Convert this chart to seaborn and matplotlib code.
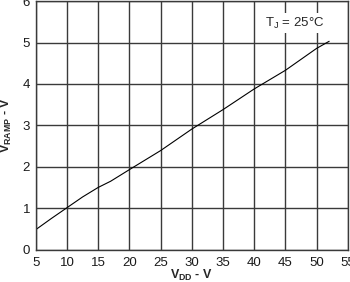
import matplotlib
matplotlib.use("Agg")
import matplotlib.pyplot as plt
import seaborn as sns
import pandas as pd

vdd = [5, 7.5, 10, 12.5, 15, 17, 20, 25, 30, 35, 40, 45, 50, 52]
vramp = [0.48, 0.75, 1.01, 1.27, 1.50, 1.65, 1.93, 2.39, 2.91, 3.38, 3.88, 4.33, 4.86, 5.03]
xticks = [5, 10, 15, 20, 25, 30, 35, 40, 45, 50, 55]
yticks = [0, 1, 2, 3, 4, 5, 6]

sns.set_theme(style="white")
plt.rcParams['font.family'] = ['Liberation Sans', 'DejaVu Sans']
plt.rcParams['mathtext.fontset'] = 'custom'
plt.rcParams['mathtext.rm'] = 'Liberation Sans'
plt.rcParams['mathtext.it'] = 'Liberation Sans'
plt.rcParams['mathtext.bf'] = 'Liberation Sans:bold'

df = pd.DataFrame({"vdd": vdd, "vramp": vramp})

fig = plt.figure(figsize=(3.5, 2.82), dpi=100)
ax = fig.add_axes([0.102, 0.115, 0.892, 0.881])
sns.lineplot(data=df, x="vdd", y="vramp", ax=ax, color="black", linewidth=0.8)

ax.set_xlim(5, 55)
ax.set_ylim(0, 6)
ax.set_xticks(xticks)
ax.set_yticks(yticks)
ax.grid(True, color="#3a3a3a", linewidth=1.0)
for s in ax.spines.values():
    s.set_color("#3a3a3a")
    s.set_linewidth(1.0)
ax.tick_params(axis="both", length=0, labelsize=9.5, colors="#1a1a1a")
ax.tick_params(axis="x", pad=5)
ax.tick_params(axis="y", pad=4)

ax.set_xlabel(r"$\mathbf{V_{DD}}$ - V", fontsize=9, fontweight="bold")
ax.set_ylabel(r"$\mathbf{V_{RAMP}}$ - V", fontsize=9, fontweight="bold")
ax.xaxis.set_label_coords(0.5, -0.072)
ax.yaxis.set_label_coords(-0.07, 0.5)

ax.text(46.5, 5.47, r"T$_\mathregular{J}$ = 25°C", fontsize=9.5, ha="center", va="center",
        bbox=dict(facecolor="white", edgecolor="none", pad=1.5))

fig.savefig("out.png", dpi=100)
